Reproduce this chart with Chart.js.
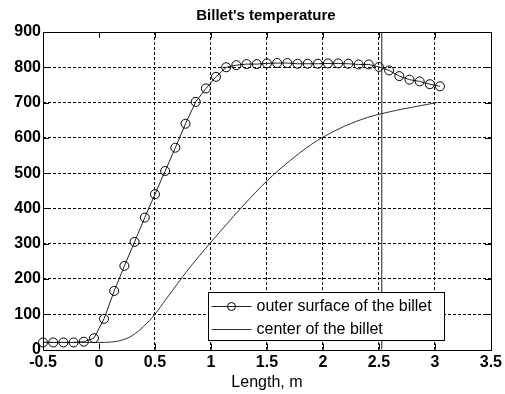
<!DOCTYPE html>
<html>
<head>
<meta charset="utf-8">
<script src="https://cdn.jsdelivr.net/npm/chart.js@4/dist/chart.umd.min.js"></script>
<style>
  html, body { margin: 0; padding: 0; background: #fff; }
  #wrap { width: 505px; height: 394px; }
</style>
</head>
<body>
<div id="wrap"><canvas id="chart" width="505" height="394"></canvas></div>
<script>
// values
const xTicks = [-0.5, 0, 0.5, 1, 1.5, 2, 2.5, 3, 3.5];
const xTickLabels = ['-0.5', '0', '0.5', '1', '1.5', '2', '2.5', '3', '3.5'];
const yTicks = [0, 100, 200, 300, 400, 500, 600, 700, 800, 900];
const yTickLabels = ['0', '100', '200', '300', '400', '500', '600', '700', '800', '900'];

const outerX = [-0.5, -0.409, -0.318, -0.227, -0.136, -0.045, 0.045, 0.136, 0.227, 0.318,
  0.409, 0.5, 0.591, 0.682, 0.773, 0.864, 0.955, 1.045, 1.136, 1.227,
  1.318, 1.409, 1.5, 1.591, 1.682, 1.773, 1.864, 1.955, 2.045, 2.136,
  2.227, 2.318, 2.409, 2.5, 2.591, 2.682, 2.773, 2.864, 2.955, 3.045];
const outerTemp = [20, 20, 20, 20, 22, 32, 87, 166, 237, 305,
  374, 440, 506, 572, 640, 702, 740, 773, 800, 806,
  809, 809, 811, 812, 812, 810, 810, 810, 811, 811,
  810, 808, 808, 801, 791, 775, 765, 760, 752, 746];

const centerX = [-0.5, -0.25, 0, 0.1, 0.2, 0.3, 0.4, 0.5, 0.6, 0.7, 0.8, 0.9, 1.0,
  1.1, 1.2, 1.3, 1.4, 1.5, 1.6, 1.7, 1.8, 1.9, 2.0, 2.2, 2.4, 2.6, 2.8, 3.02];
const centerTemp = [20, 20, 20, 21, 26, 40, 66, 100, 143, 186, 228, 267, 304,
  341, 377, 412, 446, 478, 507, 534, 559, 582, 602, 634, 658, 674, 687, 700];

const cutX = 2.525;
const X_MIN = -0.5, X_MAX = 3.5, Y_MIN = 0, Y_MAX = 900;
const TITLE = "Billet's temperature";

const FONT = 'Liberation Sans, Arial, Helvetica, sans-serif';
Chart.defaults.font.family = FONT;
Chart.defaults.color = '#000';

function pts(xs, ys) {
  return xs.map((x, i) => ({ x, y: ys[i] }));
}

// title over the axes, frame, inward tick marks and the boxed legend (MATLAB look)
const matlabFrame = {
  id: 'matlabFrame',
  afterDraw(chart) {
    const { ctx, chartArea: a, scales } = chart;
    ctx.save();

    ctx.fillStyle = '#000';
    ctx.font = 'bold 15px ' + FONT;
    ctx.textAlign = 'center';
    ctx.textBaseline = 'middle';
    ctx.fillText(TITLE, (a.left + a.right) / 2 - 1, 16);

    ctx.strokeStyle = '#000';
    ctx.lineWidth = 1;
    ctx.beginPath();
    xTicks.forEach((v) => {
      if (v === X_MIN || v === X_MAX) return;
      const px = Math.round(scales.x.getPixelForValue(v)) + 0.5;
      ctx.moveTo(px, a.bottom); ctx.lineTo(px, a.bottom - 6);
      ctx.moveTo(px, a.top); ctx.lineTo(px, a.top + 6);
    });
    yTicks.forEach((v) => {
      if (v === Y_MIN || v === Y_MAX) return;
      const py = Math.round(scales.y.getPixelForValue(v)) + 0.5;
      ctx.moveTo(a.left, py); ctx.lineTo(a.left + 6, py);
      ctx.moveTo(a.right, py); ctx.lineTo(a.right - 6, py);
    });
    ctx.stroke();
    ctx.strokeRect(Math.round(a.left) + 0.5, Math.round(a.top) + 0.5,
      Math.round(a.right - a.left), Math.round(a.bottom - a.top));

    // legend
    const bx = 208.5, by = 292.5, bw = 236, bh = 48;
    ctx.fillStyle = '#fff';
    ctx.fillRect(bx, by, bw, bh);
    ctx.strokeStyle = '#000';
    ctx.strokeRect(bx, by, bw, bh);
    const rows = [chart.data.datasets[0], chart.data.datasets[1]];
    rows.forEach((ds, i) => {
      const cy = Math.round(by + 13 + i * 23) + 0.5;
      ctx.strokeStyle = ds.borderColor;
      ctx.lineWidth = 1;
      ctx.beginPath();
      ctx.moveTo(bx + 3, cy); ctx.lineTo(bx + 43, cy);
      ctx.stroke();
      if (ds.pointRadius > 0) {
        ctx.strokeStyle = ds.pointBorderColor;
        ctx.beginPath();
        ctx.arc(bx + 23, cy, 4, 0, Math.PI * 2);
        ctx.stroke();
      }
      ctx.fillStyle = '#000';
      ctx.font = '16px ' + FONT;
      ctx.textBaseline = 'middle';
      ctx.textAlign = 'left';
      ctx.fillText(ds.label, bx + 48, cy);
    });
    ctx.restore();
  },
};

const gridColor = (ctx, lo, hi, skip) => {
  const v = ctx.tick && ctx.tick.value;
  if (v === lo || v === hi || v === skip) return 'rgba(0,0,0,0)';
  return '#000';
};

new Chart(document.getElementById('chart'), {
  type: 'line',
  data: {
    datasets: [
      {
        label: 'outer surface of the billet',
        data: pts(outerX, outerTemp),
        borderColor: '#222',
        borderWidth: 1,
        pointRadius: 4.5,
        pointBorderColor: '#000',
        pointBackgroundColor: 'rgba(0,0,0,0)',
        pointBorderWidth: 1,
        tension: 0,
        clip: false,
      },
      {
        label: 'center of the billet',
        data: pts(centerX, centerTemp),
        borderColor: '#333',
        borderWidth: 1,
        pointRadius: 0,
        cubicInterpolationMode: 'monotone',
      },
      {
        label: 'cut',
        data: pts([cutX, cutX], [Y_MIN, Y_MAX]),
        borderColor: '#555',
        borderWidth: 1.3,
        pointRadius: 0,
      },
    ],
  },
  options: {
    responsive: false,
    animation: false,
    events: [],
    layout: { padding: { left: 0, right: 14, top: 32, bottom: 0 } },
    plugins: {
      legend: { display: false },
      tooltip: { enabled: false },
      title: { display: false },
    },
    scales: {
      x: {
        type: 'linear',
        min: X_MIN,
        max: X_MAX,
        afterBuildTicks: (s) => { s.ticks = xTicks.map((v) => ({ value: v })); },
        afterFit: (s) => { s.height = 44.5; },
        ticks: {
          padding: 3,
          maxRotation: 0,
          font: { size: 16, weight: 'bold' },
          color: '#000',
          callback: (v) => xTickLabels[xTicks.indexOf(v)],
        },
        grid: {
          drawTicks: false,
          color: (c) => gridColor(c, X_MIN, X_MAX, 0),
          lineWidth: 1,
        },
        border: { display: false, dash: [3, 2] },
        title: {
          display: true,
          text: 'Length, m',
          color: '#000',
          font: { size: 16 },
          padding: { top: 0, bottom: 2 },
        },
      },
      y: {
        type: 'linear',
        min: Y_MIN,
        max: Y_MAX,
        afterBuildTicks: (s) => { s.ticks = yTicks.map((v) => ({ value: v })); },
        afterFit: (s) => { s.width = 43; },
        ticks: {
          padding: 2,
          font: { size: 16, weight: 'bold' },
          color: '#000',
          callback: (v) => yTickLabels[yTicks.indexOf(v)],
        },
        grid: {
          drawTicks: false,
          color: (c) => gridColor(c, Y_MIN, Y_MAX, null),
          lineWidth: 1,
        },
        border: { display: false, dash: [3, 2] },
      },
    },
  },
  plugins: [matlabFrame],
});
</script>
</body>
</html>
